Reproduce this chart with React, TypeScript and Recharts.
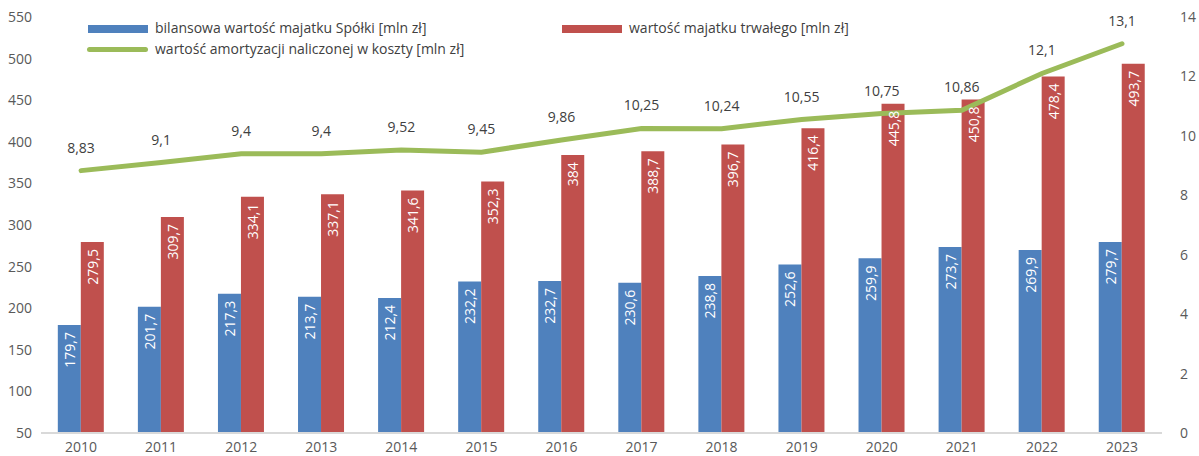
import React from 'react';
import {
  ComposedChart,
  Bar,
  Line,
  XAxis,
  YAxis,
  LabelList,
} from 'recharts';

const years = ['2010', '2011', '2012', '2013', '2014', '2015', '2016', '2017', '2018', '2019', '2020', '2021', '2022', '2023'];
const bilansowa = [179.7, 201.7, 217.3, 213.7, 212.4, 232.2, 232.7, 230.6, 238.8, 252.6, 259.9, 273.7, 269.9, 279.7];
const trwaly = [279.5, 309.7, 334.1, 337.1, 341.6, 352.3, 384, 388.7, 396.7, 416.4, 445.8, 450.8, 478.4, 493.7];
const amortyzacja = [8.83, 9.1, 9.4, 9.4, 9.52, 9.45, 9.86, 10.25, 10.24, 10.55, 10.75, 10.86, 12.1, 13.1];
const leftTicks = [50, 100, 150, 200, 250, 300, 350, 400, 450, 500, 550];
const rightTicks = [0, 2, 4, 6, 8, 10, 12, 14];

const data = years.map((year, i) => ({
  year,
  bilansowa: bilansowa[i],
  trwaly: trwaly[i],
  amortyzacja: amortyzacja[i],
}));

const FONT = '"Open Sans", sans-serif';
const fmt = (v: number) => String(v).replace('.', ',');

const BarLabel = (props: any) => {
  const { x, y, width, value } = props;
  return (
    <text
      x={x + width / 2}
      y={y + 7}
      transform={`rotate(-90, ${x + width / 2}, ${y + 7})`}
      textAnchor="end"
      dominantBaseline="central"
      fill="#ffffff"
      fontSize={14}
      fontFamily={FONT}
    >
      {fmt(value)}
    </text>
  );
};

const LineLabel = (props: any) => {
  const { x, y, value } = props;
  return (
    <text x={x} y={y - 18} textAnchor="middle" fill="#404040" fontSize={14} fontFamily={FONT}>
      {fmt(value)}
    </text>
  );
};

const legendText: React.CSSProperties = {
  position: 'absolute',
  fontFamily: FONT,
  fontSize: 14,
  color: '#404040',
  lineHeight: '16px',
  whiteSpace: 'nowrap',
};

export default function App() {
  return (
    <div style={{ position: 'absolute', left: 0, top: 0, width: 1199, height: 456, background: '#fff' }}>
      <ComposedChart
        width={1199}
        height={456}
        data={data}
        margin={{ top: 17, right: 0, left: 0, bottom: 0 }}
        barGap={0}
        barCategoryGap="21%"
      >
        <XAxis
          dataKey="year"
          tickLine={false}
          axisLine={{ stroke: '#d9d9d9', strokeWidth: 2 }}
          height={23}
          tick={{ fill: '#595959', fontSize: 14, fontFamily: FONT }}
          tickMargin={3}
          interval={0}
        />
        <YAxis
          yAxisId="left"
          domain={[50, 550]}
          ticks={leftTicks}
          width={41}
          axisLine={false}
          tickLine={false}
          tickSize={0}
          tickMargin={9}
          tick={{ fill: '#595959', fontSize: 14, fontFamily: FONT }}
          interval={0}
        />
        <YAxis
          yAxisId="right"
          orientation="right"
          domain={[0, 14]}
          ticks={rightTicks}
          width={37}
          axisLine={false}
          tickLine={false}
          tickSize={0}
          tickMargin={18}
          tick={{ fill: '#595959', fontSize: 14, fontFamily: FONT, textAnchor: 'start' }}
          interval={0}
        />
        <Bar yAxisId="left" dataKey="bilansowa" fill="#4f81bd" isAnimationActive={false}>
          <LabelList dataKey="bilansowa" content={BarLabel} />
        </Bar>
        <Bar yAxisId="left" dataKey="trwaly" fill="#c0504d" isAnimationActive={false}>
          <LabelList dataKey="trwaly" content={BarLabel} />
        </Bar>
        <Line
          yAxisId="right"
          dataKey="amortyzacja"
          stroke="#9bbb59"
          strokeWidth={5}
          dot={false}
          type="linear"
          strokeLinecap="round"
          isAnimationActive={false}
        >
          <LabelList dataKey="amortyzacja" content={LineLabel} />
        </Line>
      </ComposedChart>

      <div style={{ position: 'absolute', left: 88, top: 25, width: 60, height: 8, background: '#4f81bd' }} />
      <div style={{ ...legendText, left: 155, top: 20 }}>bilansowa wartość majatku Spółki [mln zł]</div>
      <div style={{ position: 'absolute', left: 562, top: 25, width: 60, height: 8, background: '#c0504d' }} />
      <div style={{ ...legendText, left: 629, top: 20 }}>wartość majatku trwałego [mln zł]</div>
      <div style={{ position: 'absolute', left: 87, top: 47, width: 61, height: 5, borderRadius: 3, background: '#9bbb59' }} />
      <div style={{ ...legendText, left: 155, top: 41 }}>wartość amortyzacji naliczonej w koszty [mln zł]</div>
    </div>
  );
}
